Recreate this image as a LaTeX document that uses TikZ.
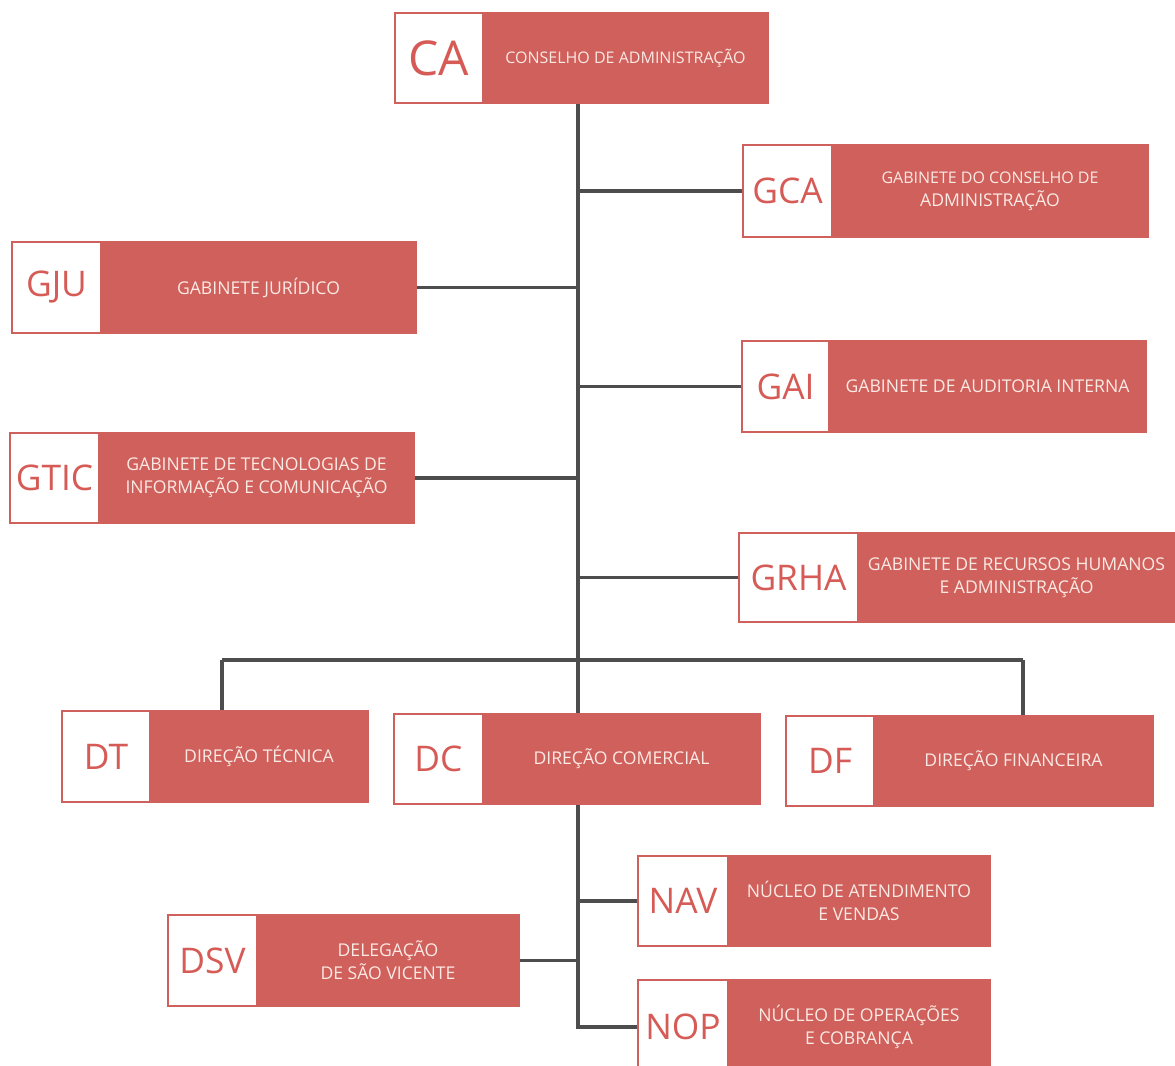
\documentclass[tikz,border=0pt]{standalone}
\usepackage{fontspec}
\setmainfont{Open Sans}
\usetikzlibrary{fit}
\definecolor{orgred}{HTML}{CF605C}
\definecolor{abbrred}{HTML}{D65B56}
\definecolor{desccol}{HTML}{FBE9E4}
\definecolor{conncol}{HTML}{4D4D4D}
\newcommand\descsmall{\fontsize{12}{16}\selectfont}
\tikzset{
  redbox/.style={draw=orgred, fill=orgred, line width=0.9pt, inner sep=0pt},
  abbrbox/.style={draw=orgred, fill=white, line width=1pt, inner sep=0pt},
  abbrtext/.style={text=abbrred, font=\fontsize{26.5}{28}\selectfont, inner sep=0pt},
  bigabbr/.style={text=abbrred, font=\fontsize{36}{38}\selectfont, inner sep=0pt},
  desctext/.style={text=desccol, font=\fontsize{13.2}{17}\selectfont, align=center, inner sep=0pt},
  conn/.style={draw=conncol, line width=2.8pt}
}
% #1 name, #2 x1, #3 y1, #4 x2, #5 y2, #6 x of white split, #7 abbr style, #8 abbr, #9 text
\newcommand\orgunit[9]{%
  \node[redbox, fit={(#2,#3)(#4,#5)}] (#1) {};
  \node[abbrbox, fit={(#2,#3)(#6,#5)}] (#1a) {};
  \node[#7] (#1t) at (#1a.center) {#8};
  \node[desctext] (#1d) at ({(#6+#4)/2},{(#3+#5)/2}) {#9};
}
\begin{document}
\begin{tikzpicture}[x=0.75pt, y=-0.75pt]
\useasboundingbox (0,0) rectangle (1175,1066);
\clip (0,0) rectangle (1175,1066);
\fill[white] (0,0) rectangle (1175,1066);

\orgunit{ca}{395}{13}{768}{103}{483}{bigabbr}{CA}{\descsmall CONSELHO DE ADMINISTRAÇÃO}
\orgunit{gca}{743}{145}{1148}{237}{832}{abbrtext}{GCA}{\descsmall GABINETE DO CONSELHO DE\\ADMINISTRAÇÃO}
\orgunit{gju}{12}{242}{416}{333}{101}{abbrtext}{GJU}{GABINETE JURÍDICO}
\orgunit{gai}{742}{341}{1146}{432}{829}{abbrtext}{GAI}{GABINETE DE AUDITORIA INTERNA}
\orgunit{gtic}{10}{433}{414}{523}{99}{abbrtext}{GTIC}{GABINETE DE TECNOLOGIAS DE\\INFORMAÇÃO E COMUNICAÇÃO}
\orgunit{grha}{739}{533}{1175}{622}{858}{abbrtext}{GRHA}{GABINETE DE RECURSOS HUMANOS\\E ADMINISTRAÇÃO}
\orgunit{dt}{62}{711}{368}{802}{150}{abbrtext}{DT}{DIREÇÃO TÉCNICA}
\orgunit{dc}{394}{714}{760}{804}{483}{abbrtext}{DC}{DIREÇÃO COMERCIAL}
\orgunit{df}{786}{716}{1153}{806}{874}{abbrtext}{DF}{DIREÇÃO FINANCEIRA}
\orgunit{nav}{638}{856}{990}{946}{728}{abbrtext}{NAV}{NÚCLEO DE ATENDIMENTO\\E VENDAS}
\orgunit{dsv}{168}{915}{519}{1006}{257}{abbrtext}{DSV}{DELEGAÇÃO\\DE SÃO VICENTE}
\orgunit{nop}{638}{980}{990}{1074}{728}{abbrtext}{NOP}{NÚCLEO DE OPERAÇÕES\\E COBRANÇA}

\coordinate (trunk) at (578,103);
\coordinate (bl) at (222,660);
\coordinate (br) at (1023,660);

\draw[conn] (ca.south -| trunk) -- (dc.north -| trunk);
\draw[conn] (gca.west) -- (gca.west -| trunk);
\draw[conn] (gju.east) -- (gju.east -| trunk);
\draw[conn] (gai.west) -- (gai.west -| trunk);
\draw[conn] (gtic.east) -- (gtic.east -| trunk);
\draw[conn] (grha.west) -- (grha.west -| trunk);
\draw[conn] (bl) -- (br);
\draw[conn] (bl) -- (bl |- dt.north);
\draw[conn] (br) -- (br |- df.north);
\draw[conn] (dc.south -| trunk) -- (nop.west -| trunk) -- (nop.west);
\draw[conn] (nav.west) -- (nav.west -| trunk);
\draw[conn] (dsv.east) -- (dsv.east -| trunk);
\end{tikzpicture}
\end{document}
